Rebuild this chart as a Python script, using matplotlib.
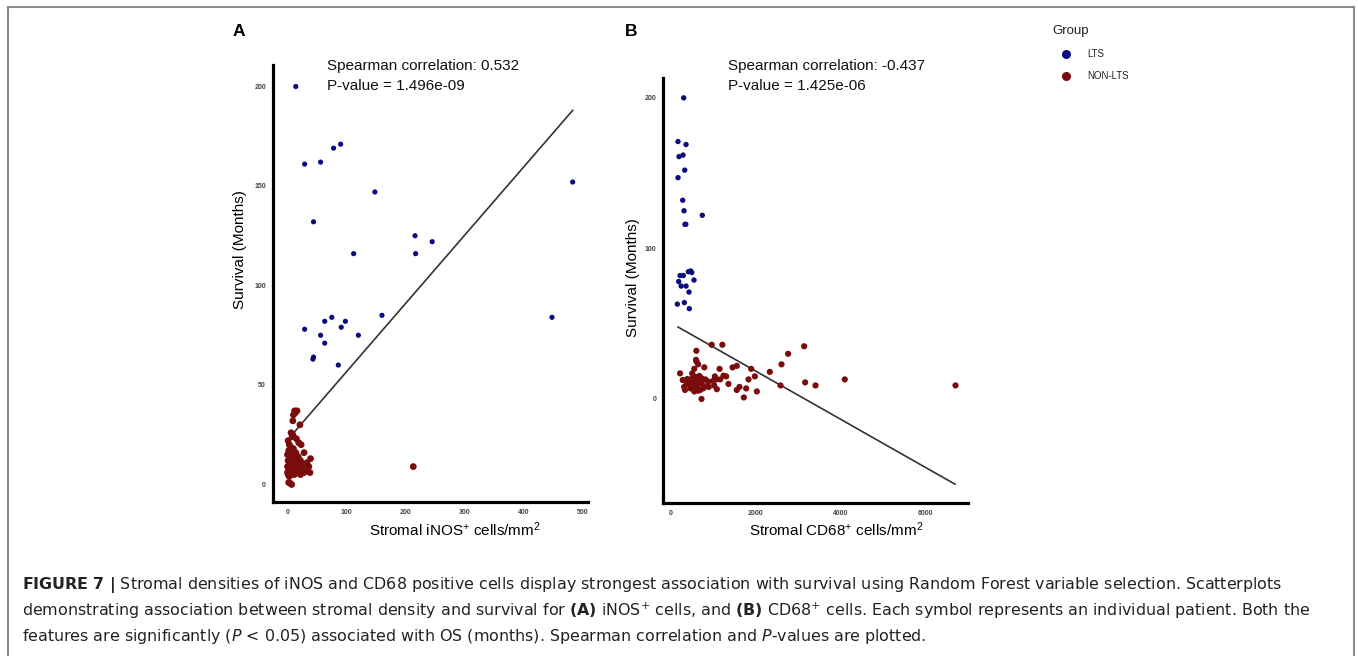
import matplotlib
matplotlib.use("Agg")
import matplotlib.pyplot as plt
from matplotlib.lines import Line2D

plt.rcParams["font.family"] = ["Liberation Sans", "DejaVu Sans"]
plt.rcParams["mathtext.fontset"] = "custom"
plt.rcParams["mathtext.rm"] = "Liberation Sans"
plt.rcParams["mathtext.it"] = "Liberation Sans:italic"
plt.rcParams["mathtext.bf"] = "Liberation Sans:bold"

# ── colours ───────────────────────────────────────────────
LTS = "#0B0B80"
NON = "#7A0C0C"
FRAME = "#8A8A8A"
INK = "#222222"

# ── panel A : stromal iNOS+ ───────────────────────────────
a_lts_x = [14, 29, 56, 78, 90, 148, 44, 216, 245, 112, 217, 483,
           29, 63, 75, 98, 91, 56, 63, 120, 160, 43, 44, 86, 448]
a_lts_y = [200, 161, 162, 169, 171, 147, 132, 125, 122, 116, 116, 152,
           78, 82, 84, 82, 79, 75, 71, 75, 85, 63, 64, 60, 84]
a_non_x = [12, 16, 13, 10, 9, 21, 6, 9, 8, 1, 15, 19, 23, 3, 5, 10, 2, 7, 14, 28,
           0, 4, 9, 18, 39, 1, 6, 12, 22, 3, 8, 16, 27, 33, 0, 5, 11, 20, 36, 2,
           7, 14, 25, 30, 0, 4, 9, 17, 28, 38, 1, 6, 12, 22, 3, 2, 7, 5, 213]
a_non_y = [37, 37, 36, 35, 32, 30, 26, 25, 24, 22, 23, 21, 20, 20, 19, 18, 17, 16, 16, 16,
           15, 14, 14, 14, 13, 12, 12, 12, 12, 11, 11, 10, 10, 11, 9, 9, 9, 9, 9, 8,
           8, 7, 7, 7, 6, 6, 6, 6, 6, 6, 5, 5, 5, 5, 4, 1, 0, 0.5, 9]
a_fit_x = [0, 483]
a_fit_y = [22.4, 188]
a_xticks = [0, 100, 200, 300, 400, 500]
a_yticks = [0, 50, 100, 150, 200]

# ── panel B : stromal CD68+ ───────────────────────────────
b_lts_x = [310, 176, 365, 200, 294, 334, 176, 287, 318, 748, 340, 360,
           224, 419, 475, 553, 193, 365, 435, 160, 325, 442, 300, 500, 250]
b_lts_y = [200, 171, 169, 161, 162, 152, 147, 132, 125, 122, 116, 116,
           82, 84.5, 85, 79, 78, 75, 71, 63, 64, 60, 82, 84, 75]
b_non_x = [969, 1220, 607, 600, 610, 650, 224, 510, 795, 559, 1155, 1460, 1560, 1898,
           2337, 2612, 2768, 3145, 1984, 1835, 3168, 3411, 4101, 2588, 6706, 2031,
           1725, 729, 1780, 1623, 1560, 1364, 1027, 1090, 1043, 1074, 1310, 1247, 1169,
           287, 341, 396, 443, 498, 537, 576, 631, 678, 733, 772, 851, 890, 576, 678,
           320, 460, 520, 560, 600, 640, 700, 820, 470, 380, 650, 560, 720, 900, 1000]
b_non_y = [36, 36, 32, 26, 25, 23, 17, 17, 21, 20, 20, 21, 22, 20,
           18, 23, 30, 35, 15, 13, 11, 9, 13, 9, 9, 5,
           1, 0, 7, 8, 6, 10, 9, 6.5, 15, 13, 15, 15.5, 13,
           12.6, 6, 13.3, 11.5, 12.6, 10.4, 7.7, 8.6, 12.6, 10.4, 7.1, 8.6, 11.5, 14.8, 15.3,
           8, 9, 14, 5, 10, 13, 6, 13, 7, 10, 5.5, 12, 14, 8, 12]
b_fit_x = [176, 6694]
b_fit_y = [47.8, -56.6]
b_xticks = [0, 2000, 4000, 6000]
b_yticks = [0, 100, 200]

fig = plt.figure(figsize=(13.58, 6.56), dpi=100)
fig.patch.set_facecolor("white")

W, H = 1358.0, 656.0


def px_axes(l, t, r, b):
    return fig.add_axes([l / W, 1 - b / H, (r - l) / W, (b - t) / H])


def style(ax, xticks, yticks, xlim, ylim):
    ax.set_xlim(*xlim)
    ax.set_ylim(*ylim)
    ax.set_xticks(xticks)
    ax.set_yticks(yticks)
    for s in ("top", "right"):
        ax.spines[s].set_visible(False)
    for s in ("left", "bottom"):
        ax.spines[s].set_linewidth(2.3)
        ax.spines[s].set_color("black")
    ax.tick_params(length=0, labelsize=5, labelcolor="#444444", pad=5)
    for lab in ax.get_xticklabels() + ax.get_yticklabels():
        lab.set_fontweight("bold")
    ax.set_facecolor("none")


def panel(ax, lx, ly, nx, ny, fx, fy, s_lts, s_non):
    ax.plot(fx, fy, color="#333333", lw=1.2, zorder=2)
    ax.scatter(nx, ny, s=s_non, color=NON, edgecolors="none", zorder=3)
    ax.scatter(lx, ly, s=s_lts, color=LTS, edgecolors="none", zorder=3)


axA = px_axes(273, 65, 588, 502)
panel(axA, a_lts_x, a_lts_y, a_non_x, a_non_y, a_fit_x, a_fit_y, 14, 24)
style(axA, a_xticks, a_yticks, (-24.6, 509), (-8.8, 210.8))

axB = px_axes(663.3, 78.3, 968, 502.7)
panel(axB, b_lts_x, b_lts_y, b_non_x, b_non_y, b_fit_x, b_fit_y, 15, 20)
style(axB, b_xticks, b_yticks, (-170, 7000), (-68.9, 213))


def ftext(x, y, s, **kw):
    fig.text(x / W, 1 - y / H, s, **kw)


# panel letters
ftext(233, 31, "A", fontsize=12.5, fontweight="bold", ha="left", va="center")
ftext(625, 31, "B", fontsize=12.5, fontweight="bold", ha="left", va="center")

# statistics
ftext(327, 66, "Spearman correlation: 0.532", fontsize=11, ha="left", va="center", color="#111111")
ftext(327, 86, "P-value = 1.496e-09", fontsize=11, ha="left", va="center", color="#111111")
ftext(728, 66, "Spearman correlation: -0.437", fontsize=11, ha="left", va="center", color="#111111")
ftext(728, 86, "P-value = 1.425e-06", fontsize=11, ha="left", va="center", color="#111111")

# axis titles
ftext(240, 250, "Survival (Months)", fontsize=11, rotation=90, ha="center", va="center")
ftext(633, 278, "Survival (Months)", fontsize=11, rotation=90, ha="center", va="center")
ftext(455, 530, r"Stromal iNOS$^{+}$ cells/mm$^{2}$", fontsize=11, ha="center", va="center")
ftext(836, 530, r"Stromal CD68$^{+}$ cells/mm$^{2}$", fontsize=11, ha="center", va="center")

# legend
ftext(1052, 31, "Group", fontsize=9.5, ha="left", va="center", color="#222222")
for yy, lab, col in [(54, "LTS", LTS), (76, "NON-LTS", NON)]:
    fig.add_artist(Line2D([1066 / W], [1 - yy / H], marker="o", markersize=6.5,
                          color=col, markeredgewidth=0, transform=fig.transFigure))
    ftext(1087, yy, lab, fontsize=7, ha="left", va="center", color="#222222")

# caption
caption = [
    r"$\mathbf{FIGURE\ 7\ |}$ Stromal densities of iNOS and CD68 positive cells display strongest "
    r"association with survival using Random Forest variable selection. Scatterplots",
    r"demonstrating association between stromal density and survival for $\mathbf{(A)}$ iNOS$^{+}$ "
    r"cells, and $\mathbf{(B)}$ CD68$^{+}$ cells. Each symbol represents an individual patient. Both the",
    r"features are significantly ($\mathit{P}$ < 0.05) associated with OS (months). Spearman correlation "
    r"and $\mathit{P}$-values are plotted.",
]
for i, line in enumerate(caption):
    ftext(22, 585 + i * 25.5, line, fontsize=11.45, ha="left", va="center", color=INK,
          family="DejaVu Sans", math_fontfamily="dejavusans")

# outer frame (open at the bottom)
for xs, ys in [([7.5, 7.5], [656, 7]), ([7.5, 1354], [7, 7]), ([1354, 1354], [7, 656])]:
    fig.add_artist(Line2D([x / W for x in xs], [1 - y / H for y in ys],
                          color=FRAME, lw=1.5, transform=fig.transFigure))

fig.savefig("out.png", dpi=100, facecolor="white")
plt.close(fig)
